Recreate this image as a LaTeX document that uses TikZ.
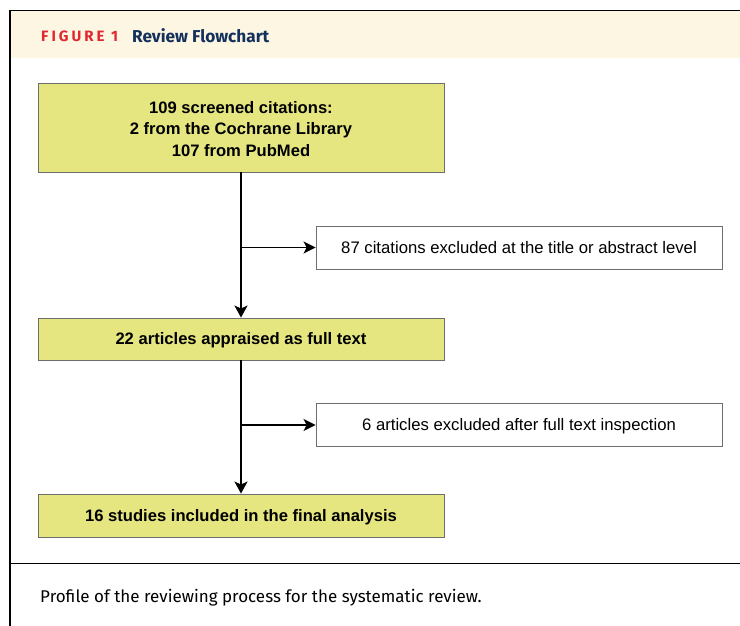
\documentclass[tikz,border=0pt]{standalone}
\usepackage{fontspec}
\setmainfont{Liberation Sans}
\newfontfamily\capfont{Fira Sans}
\usetikzlibrary{arrows.meta}
\definecolor{hdrbg}{HTML}{FDF6E3}
\definecolor{boxfill}{HTML}{E5E680}
\definecolor{boxedge}{HTML}{6E6E6E}
\definecolor{figred}{HTML}{E0282E}
\definecolor{figblue}{HTML}{13315C}
\tikzset{
  mainbox/.style={draw=boxedge, line width=0.9pt, fill=boxfill, minimum width=406pt, align=center, font=\fontsize{16.6}{21.5}\selectfont\bfseries, inner sep=0pt},
  sidebox/.style={draw=boxedge, line width=0.9pt, fill=white, minimum width=406pt, minimum height=43pt, align=center, font=\fontsize{16.7}{19}\selectfont, inner sep=0pt, text height=15pt, text depth=3.5pt},
  flow/.style={line width=2.2pt, -{Stealth[length=12pt,width=13pt,inset=3pt]}},
  branch/.style={line width=1.4pt, -{Stealth[length=12pt,width=12pt,inset=3pt]}},
}
\begin{document}
\begin{tikzpicture}[x=1pt,y=-1pt]
\useasboundingbox (0,0) rectangle (740,625);
% frame and header
\fill[hdrbg] (10,11) rectangle (740,58);
\draw[line width=1.2pt] (10,640) -- (10,10.5) -- (741,10.5);
\draw[line width=1pt] (10,563) -- (741,563);
\node[anchor=west, inner sep=0pt] (fig) at (41,36) {\capfont\fontsize{15}{17}\selectfont\bfseries\color{figred}\addfontfeatures{LetterSpace=20}FIGURE 1};
\node[anchor=west, inner sep=0pt] (ttl) at (132,36) {\capfont\fontsize{17.2}{19}\selectfont\bfseries\color{figblue}Review Flowchart};
% boxes
\node[mainbox, minimum height=89pt] (b1) at (241,127.5) {\rule{0pt}{15pt}109 screened citations:\\2 from the Cochrane Library\\107 from PubMed};
\node[sidebox] (e1) at (519,247.5) {87 citations excluded at the title or abstract level};
\node[mainbox, minimum height=42pt, text height=15pt, text depth=3.5pt] (b2) at (241,339) {22 articles appraised as full text};
\node[sidebox] (e2) at (519,425) {6 articles excluded after full text inspection};
\node[mainbox, minimum height=43pt, text height=15pt, text depth=3.5pt] (b3) at (241,515.5) {16 studies included in the final analysis};
% connectors
\draw[flow] (b1) -- (b2);
\draw[flow] (b2) -- (b3);
\coordinate (j1) at (b1.south |- e1.west);
\coordinate (j2) at (b2.south |- e2.west);
\draw[branch] (j1) -- (e1.west);
\draw[branch] (j2) -- (e2.west);
% caption
\node[anchor=west, inner sep=0pt] (cap) at (40,597.5) {\capfont\fontsize{17}{20}\selectfont Profile of the reviewing process for the systematic review.};
\end{tikzpicture}
\end{document}
